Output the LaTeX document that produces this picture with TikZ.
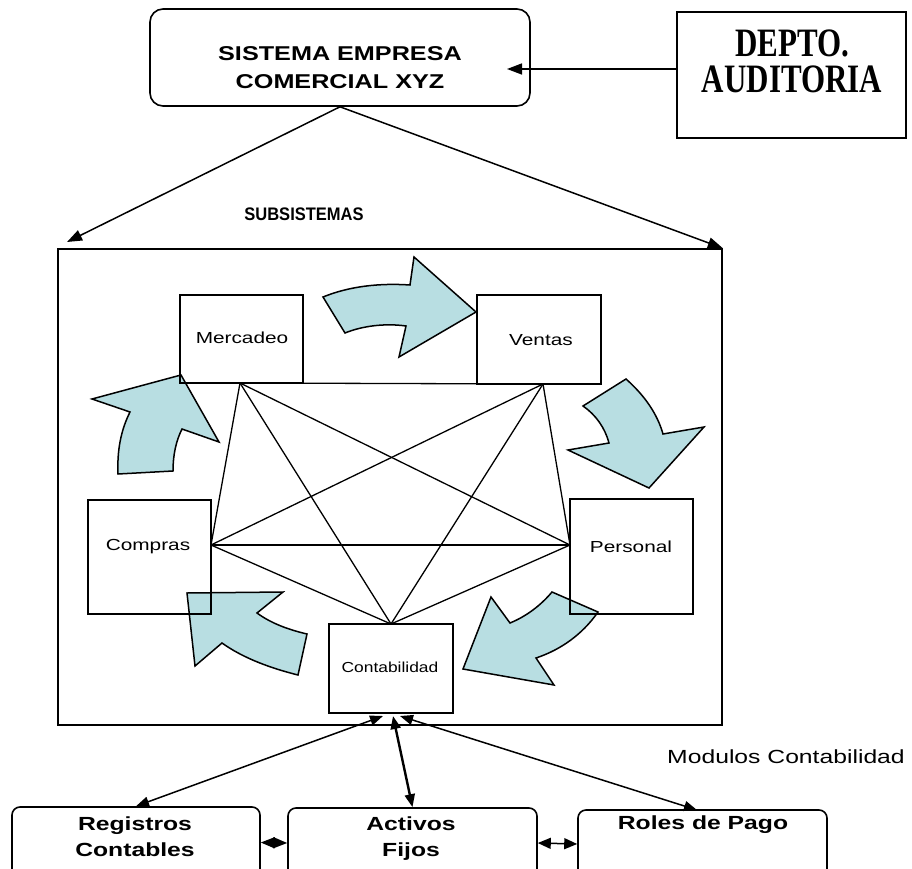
\documentclass[tikz,border=0pt]{standalone}
\usepackage{fontspec}
\setmainfont{Liberation Serif}
\setsansfont{Liberation Sans}
\usepackage{graphicx}
\usetikzlibrary{arrows.meta}

\definecolor{flowblue}{RGB}{184,222,226}

% horizontally widened text
\newcommand{\xwide}[2][1.3]{\scalebox{#1}[1]{#2}}

\tikzset{
  box/.style={draw, line width=1.6pt, inner sep=0pt},
  rbox/.style={box, rounded corners=13pt},
  mbox/.style={box, rounded corners=8pt},
  link/.style={line width=1.5pt},
  star/.style={line width=1.3pt},
  tip/.style={-{Triangle[length=15pt,width=11pt]}},
  dtip/.style={{Triangle[length=13pt,width=10pt]}-{Triangle[length=13pt,width=10pt]}},
  flow/.style={draw, line width=1.5pt, fill=flowblue, line join=miter},
  lbl/.style={inner sep=0pt, font=\sffamily\fontsize{16}{19}\selectfont},
  blbl/.style={inner sep=0pt, font=\sffamily\bfseries\fontsize{19}{26}\selectfont},
}

\begin{document}
\begin{tikzpicture}[x=1pt, y=-1pt]
  \clip (0,0) rectangle (912,869);
  \fill[white] (0,0) rectangle (912,869);

  % main boxes
  \node[rbox, minimum width=380pt, minimum height=97pt] (top) at (340,57.5) {};
  \node[box, line width=2pt, minimum width=229pt, minimum height=126pt] (dep) at (791.5,75) {};
  \node[box, minimum width=664pt, minimum height=476pt] (big) at (390,487) {};

  \node[inner sep=0pt, font=\sffamily\bfseries\fontsize{20}{28}\selectfont] (topt) at (340,69)
    {\xwide[1.26]{\begin{tabular}{@{}c@{}}SISTEMA EMPRESA\\COMERCIAL XYZ\end{tabular}}};
  \node[inner sep=0pt, font=\rmfamily\bfseries\fontsize{31}{25.4}\selectfont] (dept) at (792,66)
    {\scalebox{1}[1.3]{\begin{tabular}{@{}c@{}}DEPTO.\\AUDITORIA\end{tabular}}};
  \node[inner sep=0pt, font=\sffamily\bfseries\fontsize{16.5}{20}\selectfont] (subt) at (304,214)
    {\scalebox{1}[1.1]{SUBSISTEMAS}};

  % subsystem anchor points
  \coordinate (sM) at (240,383);
  \coordinate (sV) at (543,384);
  \coordinate (sC) at (211,545);
  \coordinate (sP) at (570,545);
  \coordinate (sK) at (391,624);

  % every subsystem linked with every other
  \draw[star] (sM) -- (sV);
  \draw[star] (sM) -- (sC);
  \draw[star] (sM) -- (sP);
  \draw[star] (sM) -- (sK);
  \draw[star] (sV) -- (sC);
  \draw[star] (sV) -- (sP);
  \draw[star] (sV) -- (sK);
  \draw[star] (sC) -- (sP);
  \draw[star] (sC) -- (sK);
  \draw[star] (sP) -- (sK);

  % cycle of curved block arrows
  \draw[flow] (323,297) .. controls (350,286) and (380,283) .. (410,285) -- (414,257) -- (476,312)
     -- (399,357) -- (406,326) .. controls (385,323) and (362,326) .. (345,333) -- cycle;
  \draw[flow] (583,406) -- (626,379) .. controls (644,395) and (657,413) .. (663,434) -- (704,427)
     -- (649,488) -- (568,450) -- (609,443) .. controls (605,428) and (596,415) .. (583,406) -- cycle;
  \draw[flow] (552,592) -- (598,612) .. controls (582,635) and (560,650) .. (536,658) -- (554,685)
     -- (463,669) -- (491,597) -- (510,623) .. controls (527,616) and (541,605) .. (552,592) -- cycle;
  \draw[flow] (187,593) -- (283,592) -- (257,613) .. controls (272,624) and (290,630) .. (307,634)
     -- (298,675) .. controls (270,668) and (243,658) .. (222,643) -- (195,666) -- cycle;
  \draw[flow] (181,375) -- (219,442) -- (182,429) .. controls (176,441) and (173,455) .. (173,471)
     -- (118,474) .. controls (117,450) and (121,430) .. (130,412) -- (92,399) -- cycle;

  % subsystem boxes
  \node[box, minimum width=123pt, minimum height=88pt] (merc) at (241.5,339) {};
  \node[box, minimum width=124pt, minimum height=89pt] (vent) at (539,339.5) {};
  \node[box, minimum width=123pt, minimum height=114pt] (comp) at (149.5,557) {};
  \node[box, minimum width=123pt, minimum height=115pt] (pers) at (631.5,556.5) {};
  \node[box, minimum width=124pt, minimum height=89pt] (cont) at (391,668.5) {};

  \node[lbl] (mercT) at (242,338) {\xwide{Mercadeo}};
  \node[lbl] (ventT) at (541,340) {\xwide{Ventas}};
  \node[lbl] (compT) at (148,547) {\xwide{Compras}};
  \node[lbl] (persT) at (631,547) {\xwide{Personal}};
  \node[lbl, font=\sffamily\fontsize{14.5}{17}\selectfont] (contT) at (390,667) {\xwide[1.2]{Contabilidad}};

  % accounting modules
  \node[lbl, font=\sffamily\fontsize{19}{22}\selectfont] (modT) at (786,757) {\xwide{Modulos Contabilidad}};
  \node[mbox, minimum width=248pt, minimum height=71pt] (reg) at (136,842.5) {};
  \node[mbox, minimum width=249pt, minimum height=70pt] (act) at (412.5,843) {};
  \node[mbox, minimum width=249pt, minimum height=68pt] (rol) at (702.5,844) {};
  \node[blbl] (regT) at (135,838) {\xwide{\begin{tabular}{@{}c@{}}Registros\\Contables\end{tabular}}};
  \node[blbl] (actT) at (411,838) {\xwide{\begin{tabular}{@{}c@{}}Activos\\Fijos\end{tabular}}};
  \node[blbl] (rolT) at (703,825) {\xwide{Roles de Pago}};

  % connectors
  \coordinate (depIn) at (677,69);
  \coordinate (topIn) at (507,69);
  \coordinate (bigL) at (67,242);
  \coordinate (kR) at (383,716);
  \coordinate (kA) at (393,716);
  \coordinate (kP) at (400,716);
  \coordinate (rolIn) at (697,810);

  \draw[link, tip] (depIn) -- (topIn);
  \draw[link, tip] (top.south) -- (bigL);
  \draw[link, tip] (top.south) -- (big.north east);

  \draw[link, dtip] (kR) -- (reg.north);
  \draw[link, line width=2.4pt, dtip] (kA) -- (act.north);
  \draw[link, dtip] (kP) -- (rolIn);

  \draw[link, {Triangle[length=14pt,width=11pt]}-{Triangle[length=14pt,width=11pt]}] (reg.east) -- (act.west);
  \draw[link, {Triangle[length=13pt,width=11pt]}-{Triangle[length=13pt,width=11pt]}] (act.east) -- (rol.west);
\end{tikzpicture}
\end{document}
